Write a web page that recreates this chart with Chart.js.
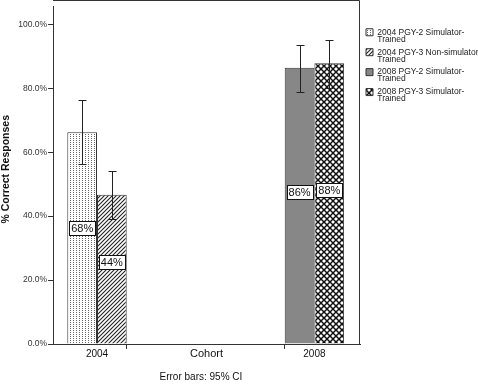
<!DOCTYPE html>
<html><head><meta charset="utf-8">
<script src="https://cdn.jsdelivr.net/npm/chart.js@4.4.1/dist/chart.umd.min.js"></script>
<style>html,body{margin:0;padding:0;background:#fff}</style>
</head><body>
<canvas id="c" width="478" height="384" style="display:block;width:478px;height:384px"></canvas>
<script>
// ---- data ----
const categories = ['2004', '2008'];
const seriesNames = [
  ['2004 PGY-2 Simulator-', 'Trained'],
  ['2004 PGY-3 Non-simulator', 'Trained'],
  ['2008 PGY-2 Simulator-', 'Trained'],
  ['2008 PGY-3 Simulator-', 'Trained']
];
const pgy2_2004 = [66.2, null];
const pgy3_2004 = [46.7, null];
const pgy2_2008 = [null, 86.4];
const pgy3_2008 = [null, 87.8];
const ciLower = [[56.2, null], [39.2, null], [null, 78.8], [null, 80.2]];
const ciUpper = [[76.4, null], [54.2, null], [null, 93.6], [null, 95.2]];
const valueLabels = [['68%', null], ['44%', null], [null, '86%'], [null, '88%']];
const yTicks = [0, 20, 40, 60, 80, 100];
const xTitle = 'Cohort';
const yTitle = '% Correct Responses';
const footnote = 'Error bars: 95% CI';

const FONT = 'Arial, "Liberation Sans", Helvetica, sans-serif';
Chart.defaults.font.family = FONT;
Chart.defaults.color = '#222';

const canvas = document.getElementById('c');
const ctx = canvas.getContext('2d');

function makePattern(w, h, draw) {
  const c = document.createElement('canvas');
  c.width = w; c.height = h;
  const g = c.getContext('2d');
  g.fillStyle = '#fff'; g.fillRect(0, 0, w, h);
  draw(g);
  return ctx.createPattern(c, 'repeat');
}
const dotPattern = makePattern(3, 2, g => { g.fillStyle = '#666'; g.fillRect(1, 0, 1, 1); });
const hatchPattern = makePattern(4, 4, g => {
  g.strokeStyle = '#222'; g.lineWidth = 1.1;
  [0, 4, 8].forEach(k => { g.beginPath(); g.moveTo(k - 4 - 1, 4 + 1); g.lineTo(k + 1, -1); g.stroke(); });
});
const crossPattern = makePattern(6, 6, g => {
  g.strokeStyle = '#111'; g.lineWidth = 1.5;
  [0, 6, 12].forEach(k => { g.beginPath(); g.moveTo(k - 7, 7); g.lineTo(k + 1, -1); g.stroke(); });
  [-6, 0, 6].forEach(k => { g.beginPath(); g.moveTo(k - 1, -1); g.lineTo(k + 7, 7); g.stroke(); });
});
const fills = [dotPattern, hatchPattern, '#878787', crossPattern];
const seriesData = [pgy2_2004, pgy3_2004, pgy2_2008, pgy3_2008];

const errorBars = {
  id: 'errorBars',
  afterDatasetsDraw(chart) {
    const c = chart.ctx, ys = chart.scales.y;
    c.save();
    c.strokeStyle = '#222'; c.lineWidth = 1;
    chart.data.datasets.forEach((ds, i) => {
      const meta = chart.getDatasetMeta(i);
      meta.data.forEach((el, j) => {
        if (ciLower[i][j] == null) return;
        const x = Math.round(el.x) + 0.5;
        const yl = Math.round(ys.getPixelForValue(ciLower[i][j])) + 0.5;
        const yh = Math.round(ys.getPixelForValue(ciUpper[i][j])) + 0.5;
        c.beginPath();
        c.moveTo(x, yl); c.lineTo(x, yh);
        c.moveTo(x - 4, yl); c.lineTo(x + 4, yl);
        c.moveTo(x - 4, yh); c.lineTo(x + 4, yh);
        c.stroke();
      });
    });
    // value labels
    c.font = '11px ' + FONT;
    c.textAlign = 'center'; c.textBaseline = 'middle';
    chart.data.datasets.forEach((ds, i) => {
      const meta = chart.getDatasetMeta(i);
      meta.data.forEach((el, j) => {
        const t = valueLabels[i][j];
        if (!t) return;
        const v = seriesData[i][j];
        const x = el.x;
        const y = Math.round(ys.getPixelForValue(v * 0.55));
        const w = Math.round(c.measureText(t).width + 4), h = 14;
        const bx = Math.round(x - w / 2) + 0.5, by = Math.round(y - h / 2) + 0.5;
        c.fillStyle = '#fff'; c.fillRect(bx, by, w, h);
        c.strokeStyle = '#111'; c.strokeRect(bx, by, w, h);
        c.fillStyle = '#111'; c.fillText(t, x, y + 0.5);
      });
    });
    c.restore();
  },
  afterDraw(chart) {
    const c = chart.ctx, a = chart.chartArea;
    c.save();
    c.strokeStyle = '#333'; c.lineWidth = 1;
    c.beginPath();
    c.moveTo(Math.round(a.left), 0.5); c.lineTo(Math.round(a.right) - 0.5, 0.5);
    c.lineTo(Math.round(a.right) - 0.5, Math.round(a.bottom));
    c.stroke();
    // category labels centred under each cohort's bars
    c.font = '10px ' + FONT; c.fillStyle = '#111';
    c.textAlign = 'center'; c.textBaseline = 'middle';
    categories.forEach((cat, j) => {
      const xs = [];
      chart.data.datasets.forEach((ds, i) => {
        if (seriesData[i][j] != null) xs.push(chart.getDatasetMeta(i).data[j].x);
      });
      const cx = xs.reduce((s, v) => s + v, 0) / xs.length;
      c.fillText(cat, cx, a.bottom + 10.5);
    });
    c.restore();
  }
};

new Chart(ctx, {
  type: 'bar',
  data: {
    labels: categories,
    datasets: seriesData.map((d, i) => ({
      label: seriesNames[i].join(' '),
      data: d,
      backgroundColor: fills[i],
      borderColor: '#333',
      borderWidth: 1,
      barPercentage: 1,
      categoryPercentage: 0.752
    }))
  },
  options: {
    responsive: false,
    animation: false,
    devicePixelRatio: 1,
    events: [],
    layout: { padding: 0 },
    scales: {
      x: {
        offset: true,
        grid: { display: true, drawOnChartArea: false, drawTicks: true, tickLength: 5, offset: false, color: '#333' },
        border: { display: true, color: '#333' },
        ticks: { display: false },
        title: { display: true, text: xTitle, font: { size: 11 }, color: '#111', padding: { top: 0, bottom: 0 } },
        afterBuildTicks: s => { s._startValue = -0.4665; s._valueRange = 1.943; },
        afterFit: s => { s.height = 17; }
      },
      y: {
        min: 0, max: 105.7,
        afterBuildTicks: s => { s.ticks = yTicks.map(v => ({ value: v })); },
        ticks: { callback: v => Number(v).toFixed(1) + '%', font: { size: 8.5 }, color: '#333', padding: 1 },
        grid: { drawOnChartArea: false, drawTicks: true, tickLength: 5, color: '#333' },
        border: { display: true, color: '#333' },
        title: { display: true, text: '    ' + yTitle, font: { size: 10.5, weight: 'bold' }, color: '#111', padding: 0 },
        afterFit: s => { s.width = 53; }
      }
    },
    plugins: {
      tooltip: { enabled: false },
      legend: {
        position: 'right',
        align: 'start',
        maxWidth: 118,
        title: { display: true, text: '', padding: { top: 10, bottom: 0 }, font: { size: 10 } },
        labels: {
          boxWidth: 7, boxHeight: 7, padding: 6,
          font: { size: 8.5, lineHeight: 0.82 }, color: '#111',
          generateLabels: chart => chart.data.datasets.map((ds, i) => ({
            text: seriesNames[i], fillStyle: ds.backgroundColor, strokeStyle: '#333',
            lineWidth: 1, hidden: false, datasetIndex: i
          }))
        }
      },
      subtitle: {
        display: true, text: footnote + '    ', position: 'bottom', fullSize: false,
        font: { size: 10, weight: 'normal' }, color: '#111', padding: { top: 10, bottom: 1 }
      }
    }
  },
  plugins: [errorBars]
});
</script>
</body></html>
